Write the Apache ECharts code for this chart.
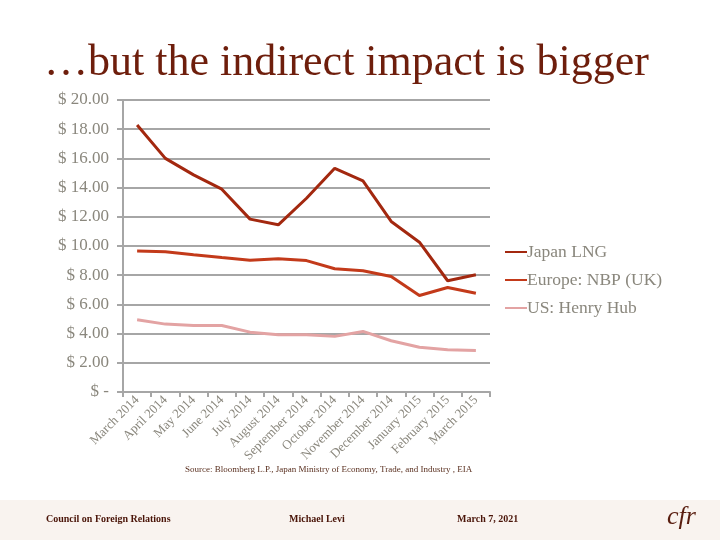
<!DOCTYPE html>
<html><head><meta charset="utf-8">
<script src="https://cdn.jsdelivr.net/npm/echarts@6/dist/echarts.min.js"></script>
<style>html,body{margin:0;padding:0;background:#fff}#c{width:720px;height:540px}</style>
</head><body><div id="c"></div>
<script>
const categories = ["March 2014","April 2014","May 2014","June 2014","July 2014","August 2014","September 2014","October 2014","November 2014","December 2014","January 2015","February 2015","March 2015"];
const japanLNG = [18.29,16.0,14.87,13.89,11.84,11.45,13.27,15.32,14.46,11.68,10.26,7.62,8.03];
const europeNBP = [9.65,9.6,9.4,9.21,9.03,9.12,9.0,8.44,8.3,7.91,6.61,7.16,6.77];
const henryHub = [4.95,4.65,4.56,4.56,4.1,3.92,3.92,3.81,4.15,3.51,3.06,2.9,2.85];
const seriesNames = ["Japan LNG","Europe: NBP (UK)","US: Henry Hub"];
const colors = ["#a3280f","#c33a1a","#e3a3a3"];
const serif = "'Liberation Serif','DejaVu Serif',serif";
const gray = "#8a877d";

const chart = echarts.init(document.getElementById('c'));
const fmt = v => v === 0 ? "$ -" : "$ " + v.toFixed(2);
chart.setOption({
  animation: false,
  backgroundColor: "#fff",
  title: {
    text: "\u2026but the indirect impact is bigger",
    left: 39, top: 36,
    textStyle: {fontFamily: serif, fontSize: 44, fontWeight: "normal", color: "#6e1e0c"}
  },
  legend: {
    orient: "vertical", left: 500, top: 238, itemGap: 10,
    itemWidth: 22, itemHeight: 2, icon: "rect",
    textStyle: {fontFamily: serif, fontSize: 17.5, color: gray, padding: [0,0,0,-5]},
    data: seriesNames
  },
  grid: {left: 123, right: 230, top: 100, bottom: 148},
  xAxis: {
    type: "category", data: categories, boundaryGap: true,
    axisLine: {lineStyle: {color: "#a6a6a6", width: 2}},
    axisTick: {show: true, length: 5, lineStyle: {color: "#a6a6a6", width: 2}},
    axisLabel: {rotate: 45, fontFamily: serif, fontSize: 13, color: gray, margin: 6, interval: 0}
  },
  yAxis: {
    type: "value", min: 0, max: 20, interval: 2,
    axisLine: {show: true, lineStyle: {color: "#a6a6a6", width: 2}},
    axisTick: {show: true, length: 6, lineStyle: {color: "#a6a6a6", width: 2}},
    splitLine: {lineStyle: {color: "#a6a6a6", width: 2}},
    axisLabel: {formatter: fmt, fontFamily: serif, fontSize: 17, color: gray, margin: 14}
  },
  series: [
    {name: seriesNames[0], type: "line", data: japanLNG, symbol: "none", lineStyle: {width: 3, color: colors[0]}, itemStyle: {color: colors[0]}},
    {name: seriesNames[1], type: "line", data: europeNBP, symbol: "none", lineStyle: {width: 3, color: colors[1]}, itemStyle: {color: colors[1]}},
    {name: seriesNames[2], type: "line", data: henryHub, symbol: "none", lineStyle: {width: 3, color: colors[2]}, itemStyle: {color: colors[2]}}
  ],
  graphic: [
    {type: "rect", left: 0, top: 500, shape: {width: 720, height: 40}, style: {fill: "#f9f3ef"}, z: -1},
    {type: "text", left: 185, top: 465, style: {text: "Source: Bloomberg L.P., Japan Ministry of Economy, Trade, and Industry , EIA", font: "9px " + serif, fill: "#5a3020"}},
    {type: "text", left: 46, top: 514, style: {text: "Council on Foreign Relations", font: "bold 10px " + serif, fill: "#4a1408"}},
    {type: "text", left: 289, top: 514, style: {text: "Michael Levi", font: "bold 10px " + serif, fill: "#4a1408"}},
    {type: "text", left: 457, top: 514, style: {text: "March 7, 2021", font: "bold 10px " + serif, fill: "#4a1408"}},
    {type: "text", left: 667, top: 504, style: {text: "cfr", font: "italic 26px " + serif, fill: "#5a1e10"}}
  ]
});
</script></body></html>
